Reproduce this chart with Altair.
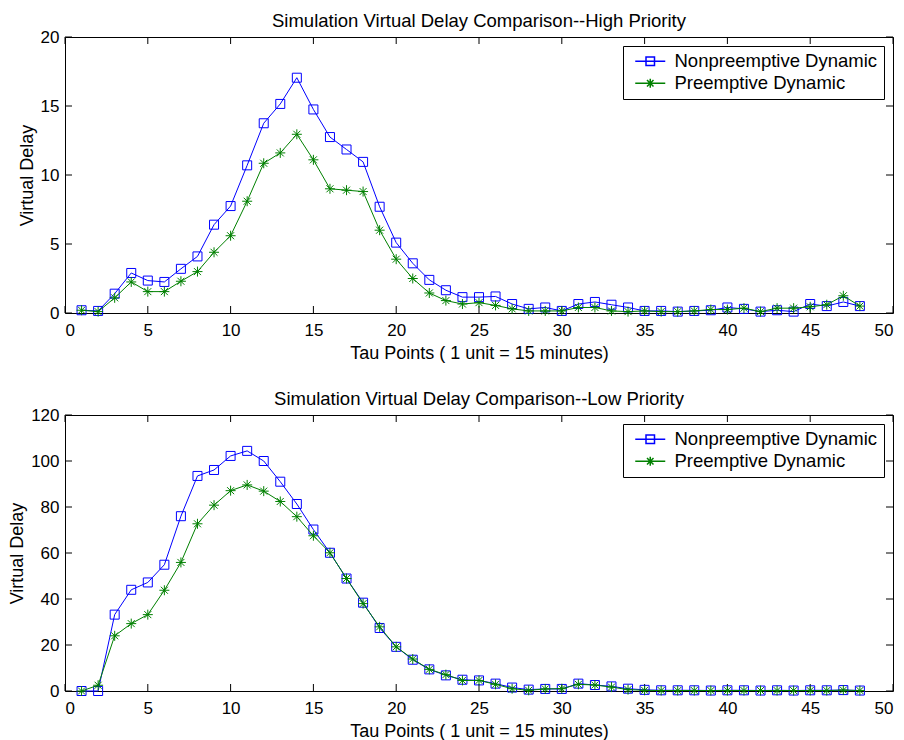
import altair as alt
import pandas as pd

tau = list(range(1, 49))

high_nonpre = [0.2, 0.15, 1.4, 2.9, 2.35, 2.25, 3.2, 4.1, 6.4, 7.75, 10.7, 13.75, 15.15, 17.05, 14.75, 12.75,
               11.85, 10.95, 7.7, 5.1, 3.6, 2.4, 1.65, 1.15, 1.15, 1.2, 0.65, 0.3, 0.4, 0.15, 0.65, 0.8,
               0.6, 0.4, 0.15, 0.15, 0.1, 0.15, 0.2, 0.4, 0.3, 0.1, 0.2, 0.1, 0.65, 0.5, 0.8, 0.5]
high_pre = [0.2, 0.1, 1.1, 2.25, 1.55, 1.55, 2.3, 3.0, 4.4, 5.6, 8.1, 10.85, 11.6, 12.95, 11.1, 9.0,
            8.9, 8.8, 6.0, 3.9, 2.5, 1.45, 0.9, 0.65, 0.75, 0.55, 0.3, 0.15, 0.15, 0.15, 0.4, 0.4,
            0.15, 0.1, 0.15, 0.1, 0.1, 0.15, 0.25, 0.25, 0.35, 0.1, 0.35, 0.35, 0.45, 0.6, 1.25, 0.5]
low_nonpre = [0, 0, 33.2, 44, 47.2, 54.9, 76, 93.5, 96.1, 102.2, 104.4, 100, 91, 81.3, 70.2, 60.1,
              48.9, 38.4, 27.4, 19.2, 13.6, 9.4, 6.8, 4.9, 4.6, 3.2, 1.5, 0.6, 0.9, 0.9, 3.2, 2.6,
              2.0, 1.0, 0.5, 0.3, 0.3, 0.3, 0.2, 0.3, 0.3, 0.2, 0.3, 0.2, 0.3, 0.3, 0.4, 0.2]
low_pre = [0, 2.5, 24, 29.3, 33.2, 43.8, 55.9, 72.7, 80.8, 87.1, 89.6, 86.9, 82.4, 75.8, 67.5, 60.1,
           48.9, 38, 27.9, 19.2, 13.9, 9.4, 7.1, 4.6, 4.6, 2.9, 1.0, 0.3, 0.9, 1.0, 2.9, 2.6,
           1.7, 0.6, 0.3, 0.2, 0.2, 0.2, 0.2, 0.2, 0.2, 0.2, 0.2, 0.2, 0.2, 0.2, 0.4, 0.2]

series = ["Nonpreemptive Dynamic", "Preemptive Dynamic"]
legend_labels = ["\u00a0Nonpreemptive Dynamic", "Preemptive Dynamic"]
colors = ["#0000ff", "#008000"]
titles = ["Simulation Virtual Delay Comparison--High Priority",
          "Simulation Virtual Delay Comparison--Low Priority"]
x_ticks = [0, 5, 10, 15, 20, 25, 30, 35, 40, 45, 50]
high_ticks = [0, 5, 10, 15, 20]
low_ticks = [0, 20, 40, 60, 80, 100, 120]

marker_paths = ["M-0.9,-0.9H0.9V0.9H-0.9Z",
                "M0,-1V1M-1,0H1M-0.7,-0.7L0.7,0.7M-0.7,0.7L0.7,-0.7"]
legend_paths = ["M-3,0H3M-0.85,-0.85H0.85V0.85H-0.85Z",
                "M-3,0H3M0,-0.9V0.9M-0.65,-0.65L0.65,0.65M-0.65,0.65L0.65,-0.65"]

W, H = 828, 276
TL = 7
FONT = "Liberation Sans"


def panel(v_np, v_p, title, ymax, yticks):
    df = pd.DataFrame({
        "tau": tau + tau,
        "delay": v_np + v_p,
        "series": [series[0]] * len(tau) + [series[1]] * len(tau),
    })
    xs = alt.Scale(domain=[0, 50], nice=False, zero=False)
    ys = alt.Scale(domain=[0, ymax], nice=False)
    x = alt.X("tau:Q", scale=xs,
              axis=alt.Axis(values=x_ticks, title="Tau Points ( 1 unit = 15 minutes)"))
    y = alt.Y("delay:Q", scale=ys, axis=alt.Axis(values=yticks, title="Virtual Delay"))

    layers = []
    xt = pd.DataFrame({"tau": x_ticks})
    yt = pd.DataFrame({"delay": yticks})
    layers.append(alt.Chart(xt).mark_rule(color="black", strokeWidth=1).encode(
        x=x, y=alt.value(H - TL), y2=alt.value(H)))
    layers.append(alt.Chart(xt).mark_rule(color="black", strokeWidth=1).encode(
        x=x, y=alt.value(0), y2=alt.value(TL)))
    layers.append(alt.Chart(yt).mark_rule(color="black", strokeWidth=1).encode(
        y=y, x=alt.value(0), x2=alt.value(TL)))
    layers.append(alt.Chart(yt).mark_rule(color="black", strokeWidth=1).encode(
        y=y, x=alt.value(W - TL), x2=alt.value(W)))

    for s, c, path in zip(series, colors, marker_paths):
        base = alt.Chart(df).transform_filter(alt.datum.series == s)
        layers.append(base.mark_line(strokeWidth=1, color=c).encode(x=x, y=y))
        layers.append(base.mark_point(filled=False, size=100, strokeWidth=1, opacity=1,
                                      shape=path, color=c).encode(x=x, y=y))

    # legend only (no marks drawn): labels come from the explicit scale domain
    layers.append(alt.Chart(df).transform_filter("false").mark_point(
        filled=False, size=100, strokeWidth=1, opacity=1).encode(
        x=x, y=y,
        color=alt.Color("series:N", scale=alt.Scale(domain=legend_labels, range=colors),
                        legend=alt.Legend(title=None)),
        shape=alt.Shape("series:N", scale=alt.Scale(domain=legend_labels, range=legend_paths),
                        legend=alt.Legend(title=None))))

    return alt.layer(*layers).properties(
        width=W, height=H, title=alt.TitleParams(title, anchor="middle"))


top = panel(high_nonpre, high_pre, titles[0], 20, high_ticks)
bottom = panel(low_nonpre, low_pre, titles[1], 120, low_ticks)

chart = alt.vconcat(top, bottom, spacing=26).resolve_scale(
    color="independent", shape="independent").resolve_legend(
    color="independent", shape="independent").properties(
    padding={"left": 0, "top": 3, "right": 0, "bottom": 0},
    background="white",
).configure_view(
    stroke="black", strokeWidth=1
).configure_axis(
    domain=False, ticks=False, grid=False,
    labelFont=FONT, labelFontSize=17, labelColor="black", labelPadding=6,
    titleFont=FONT, titleFontSize=18, titleFontWeight="normal", titleColor="black",
).configure_axisX(
    labelPadding=9, titlePadding=6
).configure_axisY(
    titlePadding=4
).configure_title(
    font=FONT, fontSize=18.5, fontWeight="normal", color="black", offset=-2
).configure_legend(
    orient="top-right", offset=9, padding=6,
    strokeColor="black", fillColor="white", cornerRadius=0,
    labelFont=FONT, labelFontSize=18.5, labelColor="black", labelLimit=0,
    symbolOffset=12, labelOffset=15, rowPadding=3,
)

chart.save("out.html", embed_options={"renderer": "svg", "actions": False})
